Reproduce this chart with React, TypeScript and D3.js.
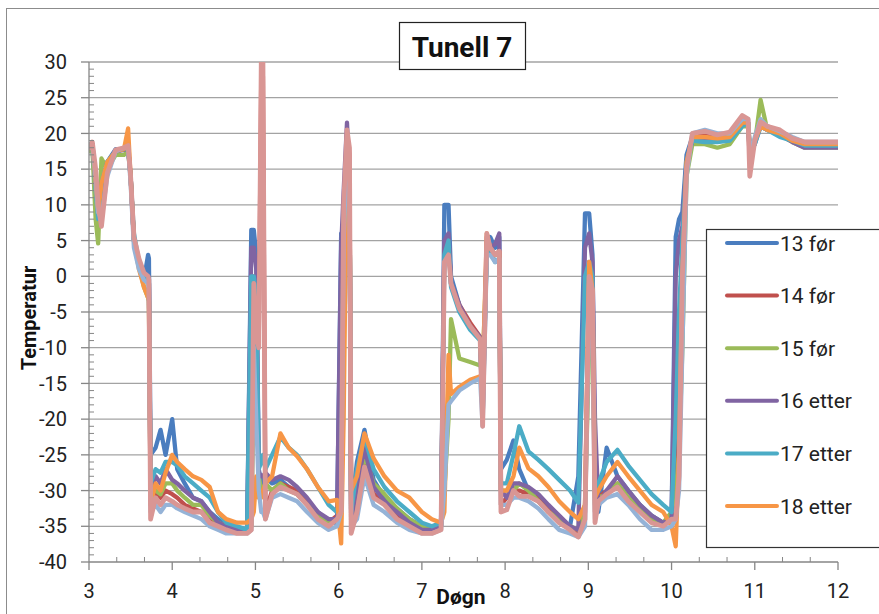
import React from 'react';
import * as d3 from 'd3';

// time axis (døgn), shared by all series
const days = [
  3.00, 3.04, 3.08, 3.11, 3.15, 3.22, 3.32, 3.42, 3.47, 3.50,
  3.54, 3.60, 3.66, 3.71, 3.72, 3.74, 3.80, 3.86, 3.92, 4.00,
  4.06, 4.15, 4.25, 4.35, 4.45, 4.55, 4.65, 4.78, 4.90, 4.95,
  4.98, 5.01, 5.04, 5.07, 5.09, 5.12, 5.20, 5.30, 5.40, 5.50,
  5.62, 5.75, 5.88, 5.98, 6.03, 6.06, 6.10, 6.13, 6.15, 6.22,
  6.31, 6.42, 6.55, 6.70, 6.85, 7.00, 7.12, 7.23, 7.27, 7.32,
  7.35, 7.45, 7.58, 7.70, 7.73, 7.78, 7.82, 7.88, 7.93, 7.95,
  8.02, 8.10, 8.17, 8.28, 8.40, 8.52, 8.65, 8.78, 8.88, 8.96,
  9.01, 9.05, 9.08, 9.12, 9.22, 9.35, 9.48, 9.62, 9.76, 9.90,
  10.00, 10.05, 10.09, 10.13, 10.18, 10.25, 10.40, 10.55, 10.70, 10.85,
  10.92, 10.94, 11.00, 11.07, 11.15, 11.30, 11.45, 11.60, 11.80, 12.00,
];

const s13 = [
  18, 18, 12, 8, 13, 16, 17.8, 17.8, 18, 14,
  5, 1.5, -0.5, 3, 2.5, -25, -24, -21.5, -25, -20,
  -27, -29, -31, -31.5, -33, -34, -35, -35.5, -35.5, 6.5,
  6.5, 3, -27, -29, -29, -28, -29, -28.5, -29.5, -30.5,
  -31.5, -33, -34.5, -34.5, 6, 6.5, 18, 14, -33, -26,
  -21.5, -28.5, -31, -32.5, -34, -35, -35.5, -35, 10, 10,
  0, -4, -7, -8.5, -18, 4, 5.5, 4, 5.5, -27,
  -25.7, -23, -27, -30, -31.5, -33, -34.5, -35, -28, 8.8,
  8.8, 3, -30, -33, -24, -28, -30, -32, -33.5, -34.5,
  -34, 5.5, 8, 9, 17, 19.5, 19.5, 19.3, 19.8, 21.5,
  21.5, 18, 19, 21, 20.5, 20, 19, 18.5, 18.5, 18.5,
];

const s14 = [
  18, 18.5, 14, 9, 8, 15, 17.5, 17.8, 18, 14,
  5, 2, 0, -0.5, -1, -32, -30, -31, -30, -30.5,
  -31, -32, -32.5, -33, -34, -34.5, -35, -35.5, -35.5, -35,
  0, -6, -9, 28, 28, -33, -30, -29, -29.5, -30,
  -31.5, -33.5, -34.5, -33.5, -30, 8, 20, 17, -35, -32,
  -26, -30.5, -31.5, -33.5, -34.5, -35.5, -35.5, -35, 4, 5,
  -1, -4, -6.5, -8.5, -20, 5.5, 4, 3, 3.5, -32,
  -31, -30, -30, -30.5, -31, -32.5, -34, -35, -36, -33,
  2, 0, -33, -31, -30, -29, -31, -32.5, -34, -34.5,
  -33.5, -30, -20, 2, 15, 19.5, 20, 19.5, 20, 22,
  21.5, 16, 19, 21.5, 21, 20.3, 19.2, 18.6, 18.6, 18.6,
];

const s15 = [
  17.5, 18, 8, 4.6, 16.5, 15, 17, 17, 17.5, 14,
  5, 1.5, -1.5, -3, -3.5, -30, -30, -30.5, -29, -29,
  -30, -31, -32, -32, -33.5, -34.5, -35, -35.5, -35.5, -35,
  -15, -12, -28, -30, -30, -29, -30, -29, -30, -30.5,
  -32, -33.5, -34.5, -34, -32, 4, 19, 15, -34, -30,
  -25, -29, -30.5, -32.5, -34, -35, -35.5, -35, -30, -20,
  -6, -11.5, -12, -12.5, -12.5, 3, 3, 3, 3, -30,
  -30, -30, -29, -30, -31.5, -33, -34, -35, -35.5, -32,
  -10, -5, -32, -31, -30.5, -29, -31, -32.5, -34, -34.5,
  -33, -30, -25, -10, 14, 18.5, 18.5, 18, 18.5, 21,
  21, 17.5, 18.5, 24.7, 20.5, 19.8, 18.8, 18, 18, 18,
];

const s16 = [
  18, 18.5, 13, 9, 12, 16, 17.5, 17.7, 18, 14,
  5, 1.5, -0.5, 0, -1, -30, -28, -29, -27, -28.5,
  -29, -30, -31, -31.5, -33, -34.5, -35, -35.5, -35.5, 4,
  4, 1, -27.5, -28, -28, -27.5, -28.5, -28, -28.5, -29.5,
  -31, -33, -34, -34, 4, 12, 21.5, 14, -34, -29.5,
  -24, -29.5, -31.5, -33, -34.5, -35.5, -35.5, -35, 5, 6,
  -1, -4, -7, -8.5, -19, 5, 4, 4.5, 6, -30,
  -31, -29, -29, -29.5, -30.5, -32, -33.5, -35, -35.5, 4,
  6, 2, -20, -32, -30, -28, -30, -32, -33.5, -34.5,
  -34, 0, 5, 7, 16, 19, 19, 19, 19.5, 21.5,
  21.5, 17, 18.5, 21, 20.5, 19.8, 18.8, 18, 18, 18,
];

const s17 = [
  18, 18.5, 12, 8, 13, 16, 17.5, 17.8, 18, 14,
  6, 2, 0, -0.5, -1, -29, -27, -27.5, -26, -26,
  -26.5, -28, -29, -30, -31, -33, -34.5, -35, -35.5, 0,
  0, -3, -27, -26, -25, -27, -25, -22.5, -24, -25,
  -27, -29.5, -32, -33, -31, 8, 19, 14, -33, -27,
  -22.5, -27, -29.5, -31.5, -33, -34.5, -35, -34.5, 3, 5,
  -1.5, -5, -7.5, -9, -20, 4, 3.5, 2, 2.5, -29,
  -29, -25, -21, -24.5, -25.7, -27, -28.5, -30, -31.7, 0,
  2, 0, -30, -29, -26, -24.3, -26.5, -28.5, -30.5, -32,
  -33, -20, -5, 5, 16, 19, 18.8, 18.8, 19, 21,
  21.5, 18, 18.5, 21, 20.5, 19.5, 19, 18.3, 18.3, 18.3,
];

const s18 = [
  18, 18.5, 13, 9, 13, 16, 17.5, 17.8, 20.7, 14,
  5, 1, -1.5, -3, -3.3, -32, -29, -30, -27.5, -25,
  -26, -27, -28, -28.5, -29.5, -33, -34, -34.5, -34.5, -34,
  -33, -28, -31, -31, -30, -29, -28, -22, -24, -25.2,
  -27, -29.5, -31.5, -31.3, -37.4, -20, 19, 15, -30, -28,
  -22, -25.5, -28, -30, -31, -33, -34, -34.5, -33, -11,
  -16.5, -15.5, -14.5, -14, -14, 6, 4, 3, 3.5, -30,
  -30, -28, -24, -26.9, -28, -29.5, -31.5, -33, -34, -32,
  2, -2, -31, -30, -28, -26, -28, -30, -32, -33,
  -35, -37.8, -25, 0, 16, 19.5, 19.5, 19.3, 19.5, 21.5,
  21.5, 18, 19, 21, 20.5, 20, 19, 18.5, 18.5, 18.5,
];

const s19 = [
  18.5, 18.5, 14, 9, 8, 14, 17.5, 18, 18, 13,
  4, 1, -0.5, -1, -1.5, -33, -32, -33, -32, -32,
  -32.5, -33, -33.5, -34, -35, -35.5, -36, -36, -36, -35.5,
  -10, -20, -30, -33, -33, -34, -31, -30.5, -31, -31.5,
  -33, -34.5, -35.5, -35, -33, 5, 19, 16, -35, -34,
  -28, -32, -33, -34.5, -35.5, -36, -36, -35.5, -30, -18,
  -17.5, -16, -15, -14.3, -21, 3, 3, 2, 2.5, -32,
  -32, -31, -31, -31.5, -32.5, -34, -35.5, -36, -36.5, -35,
  -3, -8, -34, -32, -31, -30.5, -32, -34, -35.5, -35.5,
  -35, -34, -30, -10, 14, 20, 20.5, 20, 20, 22,
  22, 17, 19.5, 22, 21, 20.3, 19.5, 18.8, 18.8, 18.8,
];

const s20 = [
  18, 18.8, 15, 10, 7, 14.5, 17.7, 18, 18.3, 14,
  5.5, 2.5, 0.5, 0, -0.5, -34, -31, -32, -31, -31.5,
  -32, -32.5, -33, -33, -34.5, -35, -35.5, -36, -36, -35.5,
  -1, -8, -10, 30, 30, -34, -30.5, -29.5, -30, -30.5,
  -32, -34, -35, -34, -33, 10, 20.5, 18, -36, -33,
  -26.7, -31, -32, -34, -35, -36, -36, -35.5, 2, 3,
  -1, -4.5, -7, -8.8, -21, 6, 4, 3, 3.5, -33,
  -32.7, -30, -30.8, -30.8, -31.5, -33, -34.5, -35.5, -36.5, -34,
  0, -2, -34.5, -31.5, -30.5, -29.5, -31.5, -33, -34.5, -35,
  -34, -34, -28, 0, 15, 20, 20.3, 19.8, 20.2, 22.5,
  22, 14, 19, 21.6, 21, 20.5, 19.3, 18.8, 18.8, 18.8,
];

const seriesNames = ['13 før', '14 før', '15 før', '16 etter', '17 etter', '18 etter', '19 etter', '20 etter'];
const seriesColors = ['#4a7dbf', '#c0504d', '#9bbb59', '#8064a2', '#4bacc6', '#f79646', '#95b3d7', '#d99694'];
const legendShown = 6; // the rest is cut off by the chart edge

const xTicks = [3, 4, 5, 6, 7, 8, 9, 10, 11, 12];
const yTicks = [-40, -35, -30, -25, -20, -15, -10, -5, 0, 5, 10, 15, 20, 25, 30];

const font = "Roboto, 'Liberation Sans', sans-serif";

export default function App() {
  const left = 89, right = 838, top = 62, bottom = 562;
  const x = d3.scaleLinear().domain([3, 12]).range([left, right]);
  const y = d3.scaleLinear().domain([-40, 30]).range([bottom, top]);

  const all = [s13, s14, s15, s16, s17, s18, s19, s20];
  const line = d3.line<number>()
    .x((_, i) => x(days[i]))
    .y((d) => y(d));

  const minorY = d3.range(-40, 31, 1).filter((v) => v % 5 !== 0);
  const minorX = d3.range(3, 12.001, 1 / 3).filter((v) => Math.abs(v - Math.round(v)) > 0.01);

  const legendTop = 243, legendStep = 52.6;

  return (
    <svg width={879} height={614} style={{ position: 'absolute', left: 0, top: 0, background: '#fff' }}>
      <defs>
        <clipPath id="plot">
          <rect x={left} y={top} width={right - left} height={bottom - top} />
        </clipPath>
      </defs>
      <rect x={6.5} y={8.5} width={1000} height={1000} fill="#fff" stroke="#8c8c8c" />

      {/* gridlines */}
      {yTicks.filter((t) => t > -40).map((t) => (
        <line key={'g' + t} x1={left} x2={right} y1={y(t)} y2={y(t)} stroke="#a3a3a3" strokeWidth={1.3} />
      ))}

      {/* series */}
      <g clipPath="url(#plot)" fill="none" strokeLinejoin="round" strokeLinecap="round">
        {all.map((s, i) => (
          <path key={seriesNames[i]} d={line(s) ?? ''} stroke={seriesColors[i]} strokeWidth={i === 7 ? 4.8 : 4.3} />
        ))}
      </g>

      {/* y axis */}
      <line x1={left} x2={left} y1={top} y2={bottom} stroke="#868686" strokeWidth={1.3} />
      {yTicks.map((t) => (
        <g key={'y' + t}>
          <line x1={left - 8} x2={left} y1={y(t)} y2={y(t)} stroke="#868686" strokeWidth={1.3} />
          <text x={67} y={y(t)} dy="0.36em" textAnchor="end" fontFamily={font} fontSize={20} fill="#222">
            {t}
          </text>
        </g>
      ))}
      {minorY.map((t) => (
        <line key={'my' + t} x1={left} x2={left + 5} y1={y(t)} y2={y(t)} stroke="#868686" />
      ))}

      {/* x axis */}
      <line x1={left} x2={right} y1={bottom} y2={bottom} stroke="#868686" strokeWidth={1.3} />
      {xTicks.map((t) => (
        <g key={'x' + t}>
          <line x1={x(t)} x2={x(t)} y1={bottom} y2={bottom + 8} stroke="#868686" strokeWidth={1.3} />
          <text x={x(t)} y={598} textAnchor="middle" fontFamily={font} fontSize={20} fill="#222">
            {t}
          </text>
        </g>
      ))}
      {minorX.map((t) => (
        <line key={'mx' + t} x1={x(t)} x2={x(t)} y1={bottom} y2={bottom - 5} stroke="#868686" />
      ))}

      {/* axis titles */}
      <text x={461} y={604} textAnchor="middle" fontFamily={font} fontWeight="bold" fontSize={21} fill="#111">
        Døgn
      </text>
      <text
        transform="translate(36,318) rotate(-90)"
        textAnchor="middle"
        fontFamily={font}
        fontWeight="bold"
        fontSize={20}
        fill="#111"
      >
        Temperatur
      </text>

      {/* title */}
      <rect x={399.5} y={22.5} width={126} height={47} fill="#fff" stroke="#222" strokeWidth={1.2} />
      <text x={462} y={57} textAnchor="middle" fontFamily={font} fontWeight="bold" fontSize={28} fill="#111">
        Tunell 7
      </text>

      {/* legend */}
      <rect x={706.5} y={229.5} width={200} height={318} fill="#fff" stroke="#333" strokeWidth={1.2} />
      {seriesNames.slice(0, legendShown).map((n, i) => (
        <g key={'l' + n}>
          <line
            x1={727}
            x2={777}
            y1={legendTop + i * legendStep}
            y2={legendTop + i * legendStep}
            stroke={seriesColors[i]}
            strokeWidth={4}
            strokeLinecap="round"
          />
          <text x={780} y={legendTop + i * legendStep} dy="0.36em" fontFamily={font} fontSize={21} fill="#222">
            {n}
          </text>
        </g>
      ))}
    </svg>
  );
}
